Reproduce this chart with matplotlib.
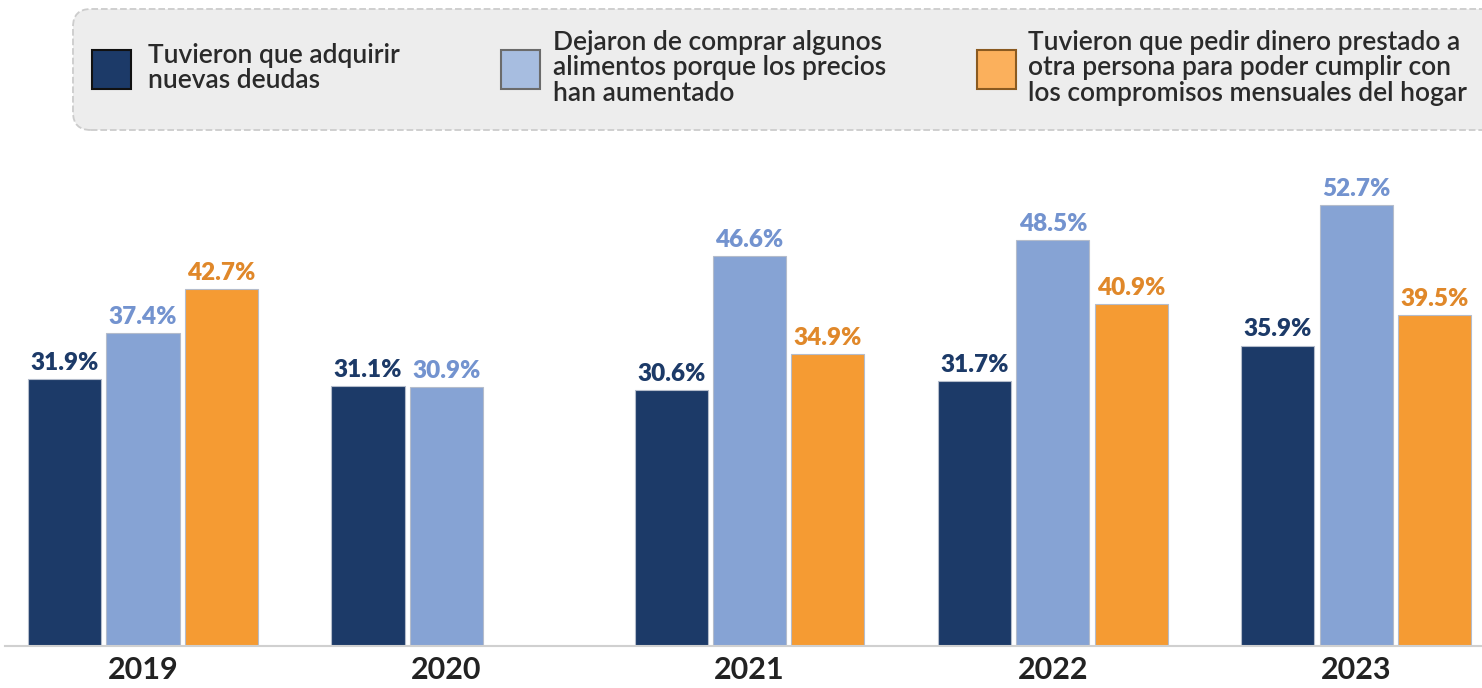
import numpy as np
import matplotlib.pyplot as plt
from matplotlib.patches import FancyBboxPatch, Rectangle

plt.rcParams['font.family'] = ['Lato', 'DejaVu Sans']

# data
years = ['2019', '2020', '2021', '2022', '2023']
series_names = [
    'Tuvieron que adquirir\nnuevas deudas',
    'Dejaron de comprar algunos\nalimentos porque los precios\nhan aumentado',
    'Tuvieron que pedir dinero prestado a\notra persona para poder cumplir con\nlos compromisos mensuales del hogar',
]
deudas = [31.9, 31.1, 30.6, 31.7, 35.9]
alimentos = [37.4, 30.9, 46.6, 48.5, 52.7]
prestado = [42.7, np.nan, 34.9, 40.9, 39.5]

bar_colors = ['#1c3a68', '#86a3d4', '#f59b33']
label_colors = ['#1c3a68', '#7393cf', '#e0882a']
legend_edges = ['#111111', '#6b6b6b', '#8a5a20']
legend_faces = ['#1c3a68', '#a7bde0', '#fbb05c']

W, H = 1482, 688
fig = plt.figure(figsize=(W / 100, H / 100), dpi=100)

# axes placed in pixel terms
ax_left, ax_right = 5, 1482
ax_bottom, ax_top = 646, 150
ax = fig.add_axes([ax_left / W, (H - ax_bottom) / H,
                   (ax_right - ax_left) / W, (ax_bottom - ax_top) / H])

x = np.arange(len(years))
width = 0.241
step = 0.258
for i, vals in enumerate([deudas, alimentos, prestado]):
    pos = x + (i - 1) * step
    ax.bar(pos, vals, width, color=bar_colors[i],
           edgecolor='#b4bccb', linewidth=0.8, zorder=2)
    for xp, v in zip(pos, vals):
        if np.isnan(v):
            continue
        ax.text(xp, v + 0.6, f'{v:.1f}%', ha='center', va='bottom',
                fontsize=17.5, fontweight=800, color=label_colors[i])

ax.set_xlim(-0.455, 4.415)
ax.set_ylim(0, 59.26)
ax.set_xticks(x)
ax.set_xticklabels(years, fontsize=22, fontweight=700, color='#222222')
ax.tick_params(axis='x', length=0, pad=7)
ax.set_yticks([])
for s in ['top', 'right', 'left']:
    ax.spines[s].set_visible(False)
ax.spines['bottom'].set_color('#d0d0d0')
ax.spines['bottom'].set_linewidth(1.5)

# legend box
box = FancyBboxPatch((73 / W, (H - 130) / H), (1500 - 73) / W, 121 / H,
                     boxstyle='round,pad=0,rounding_size=0.012',
                     transform=fig.transFigure, facecolor='#ededed',
                     edgecolor='#cccccc', linestyle='--', linewidth=1.3,
                     mutation_aspect=W / H, clip_on=False)
fig.patches.append(box)

marker_x = [92, 501, 977]
text_x = [148, 553, 1028]
for i in range(3):
    sq = Rectangle((marker_x[i] / W, (H - 89) / H), 39 / W, 39 / H,
                   transform=fig.transFigure, facecolor=legend_faces[i],
                   edgecolor=legend_edges[i], linewidth=1.5)
    fig.patches.append(sq)
    fig.text(text_x[i] / W, (H - 68) / H, series_names[i], ha='left',
             va='center', fontsize=19, fontweight=600, color='#2a2a2a',
             linespacing=1.02)

fig.savefig('out.png', dpi=100)
